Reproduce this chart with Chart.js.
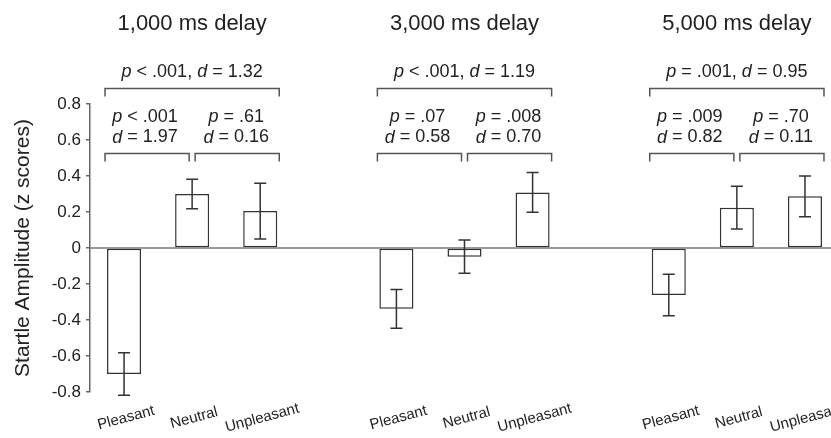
<!DOCTYPE html>
<html>
<head>
<meta charset="utf-8">
<script src="https://cdn.jsdelivr.net/npm/chart.js@4"></script>
<style>
html,body{margin:0;padding:0;background:#fff;overflow:hidden;width:831px;height:438px;}
canvas{display:block;}
</style>
</head>
<body>
<canvas id="c" width="839" height="438"></canvas>
<script>
const categories = ['Pleasant','Neutral','Unpleasant','','Pleasant','Neutral','Unpleasant','','Pleasant','Neutral','Unpleasant'];
const means  = [-0.70, 0.30, 0.205, null, -0.338, -0.048, 0.309, null, -0.261, 0.224, 0.287];
const errors = [0.118, 0.082, 0.155, null, 0.108, 0.092, 0.111, null, 0.115, 0.119, 0.113];
const groupTitles = ['1,000 ms delay','3,000 ms delay','5,000 ms delay'];
const groupStart = [0, 4, 8];
const overallStats = ['p < .001, d = 1.32','p < .001, d = 1.19','p = .001, d = 0.95'];
const pnP = ['p < .001','p = .07','p = .009'];
const pnD = ['d = 1.97','d = 0.58','d = 0.82'];
const nuP = ['p = .61','p = .008','p = .70'];
const nuD = ['d = 0.16','d = 0.70','d = 0.11'];
const yTicks = [-0.8,-0.6,-0.4,-0.2,0,0.2,0.4,0.6,0.8];

const FONT = '"Liberation Sans", Arial, Helvetica, sans-serif';
const TXT = '#222';
const LINE = '#555';

function richText(ctx, str, cx, cy, size) {
  const segs = [];
  const re = /(^|\s)([pd])(?=\s)/g;
  let last = 0, m;
  while ((m = re.exec(str)) !== null) {
    const idx = m.index + m[1].length;
    if (idx > last) segs.push([str.slice(last, idx), false]);
    segs.push([m[2], true]);
    last = idx + 1;
  }
  if (last < str.length) segs.push([str.slice(last), false]);
  let total = 0;
  const widths = segs.map(s => {
    ctx.font = (s[1] ? 'italic ' : '') + size + 'px ' + FONT;
    const w = ctx.measureText(s[0]).width; total += w; return w;
  });
  let x = cx - total / 2;
  ctx.textBaseline = 'middle';
  ctx.textAlign = 'left';
  ctx.fillStyle = TXT;
  segs.forEach((s, i) => {
    ctx.font = (s[1] ? 'italic ' : '') + size + 'px ' + FONT;
    ctx.fillText(s[0], x, cy);
    x += widths[i];
  });
}

function bracket(ctx, x1, x2, y, leg) {
  ctx.beginPath();
  ctx.moveTo(x1, y + leg);
  ctx.lineTo(x1, y);
  ctx.lineTo(x2, y);
  ctx.lineTo(x2, y + leg);
  ctx.stroke();
}

const annot = {
  id: 'annot',
  afterDatasetsDraw(chart) {
    const ctx = chart.ctx;
    const xs = chart.scales.x, ys = chart.scales.y;
    const meta = chart.getDatasetMeta(0);
    const area = chart.chartArea;
    // zero line over the bars
    ctx.save();
    ctx.strokeStyle = '#777';
    ctx.lineWidth = 1.5;
    const y0 = ys.getPixelForValue(0);
    ctx.beginPath();
    ctx.moveTo(area.left, y0); ctx.lineTo(area.right, y0);
    ctx.stroke();
    ctx.restore();
    // error bars
    ctx.save();
    ctx.strokeStyle = '#333';
    ctx.lineWidth = 1.5;
    means.forEach((v, i) => {
      if (v === null) return;
      const x = xs.getPixelForValue(i);
      const yt = ys.getPixelForValue(v + errors[i]);
      const yb = ys.getPixelForValue(v - errors[i]);
      ctx.beginPath();
      ctx.moveTo(x, yt); ctx.lineTo(x, yb);
      ctx.moveTo(x - 6, yt); ctx.lineTo(x + 6, yt);
      ctx.moveTo(x - 6, yb); ctx.lineTo(x + 6, yb);
      ctx.stroke();
    });
    ctx.restore();

    ctx.save();
    ctx.strokeStyle = LINE;
    ctx.lineWidth = 1.5;
    groupStart.forEach((s, g) => {
      const b0 = meta.data[s], b1 = meta.data[s + 1], b2 = meta.data[s + 2];
      const l0 = b0.x - b0.width / 2 - 2;
      const r2 = b2.x + b2.width / 2 + 2;
      const c1 = b1.x;
      bracket(ctx, l0, r2, 88.5, 8);
      bracket(ctx, l0, c1 - 3, 153.5, 8);
      bracket(ctx, c1 + 3, r2, 153.5, 8);
      richText(ctx, overallStats[g], (l0 + r2) / 2, 72, 18);
      const lc = (l0 + c1 - 3) / 2 - 2, rc = (c1 + 3 + r2) / 2 - 1;
      richText(ctx, pnP[g], lc, 117, 18);
      richText(ctx, pnD[g], lc, 137.5, 18);
      richText(ctx, nuP[g], rc, 117, 18);
      richText(ctx, nuD[g], rc, 137.5, 18);
      ctx.font = '22px ' + FONT;
      ctx.textAlign = 'center';
      ctx.textBaseline = 'middle';
      ctx.fillStyle = TXT;
      ctx.fillText(groupTitles[g], c1, 24);
    });
    ctx.font = '15px ' + FONT;
    ctx.fillStyle = TXT;
    ctx.textAlign = 'center';
    ctx.textBaseline = 'middle';
    categories.forEach((lab, i) => {
      if (!lab) return;
      const x = xs.getPixelForValue(i) + 2;
      ctx.save();
      ctx.translate(x, 418);
      ctx.rotate(-15 * Math.PI / 180);
      ctx.fillText(lab, 0, 0);
      ctx.restore();
    });
    ctx.restore();
  }
};

new Chart(document.getElementById('c'), {
  type: 'bar',
  data: {
    labels: categories,
    datasets: [{
      data: means,
      backgroundColor: '#ffffff',
      borderColor: '#333',
      borderWidth: 1.5,
      borderSkipped: false,
      categoryPercentage: 1,
      barPercentage: 0.5
    }]
  },
  options: {
    responsive: false,
    animation: false,
    devicePixelRatio: 1,
    layout: { padding: { top: 104, bottom: 46, left: 0, right: 0 } },
    plugins: { legend: { display: false }, tooltip: { enabled: false } },
    scales: {
      x: { display: false },
      y: {
        min: -0.8, max: 0.8,
        afterFit(s) { s.width = 90; },
        afterBuildTicks(s) { s.ticks = yTicks.map(v => ({ value: v })); },
        ticks: {
          color: TXT,
          font: { family: FONT, size: 17 },
          padding: 5,
          callback: v => (Math.abs(v) < 1e-9 ? '0' : String(Math.round(v * 10) / 10))
        },
        grid: {
          drawOnChartArea: false,
          drawTicks: true,
          tickLength: 4,
          tickColor: '#666',
          lineWidth: 1.5
        },
        border: { display: true, color: '#666', width: 1.5 },
        title: {
          display: true,
          text: 'Startle Amplitude (z scores)',
          color: TXT,
          font: { family: FONT, size: 21 },
          padding: { top: 11, bottom: 0 }
        }
      }
    }
  },
  plugins: [annot]
});
</script>
</body>
</html>
